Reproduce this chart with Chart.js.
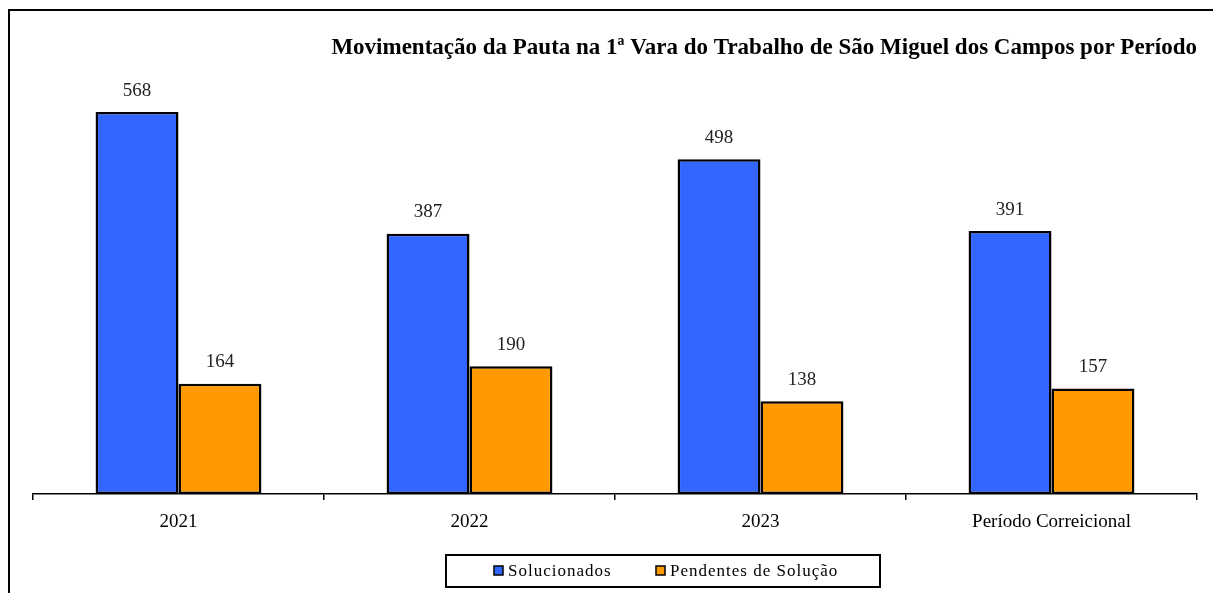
<!DOCTYPE html>
<html lang="pt">
<head>
    <meta charset="UTF-8">
    <title>Movimentação da Pauta</title>
    <script src="https://cdn.jsdelivr.net/npm/chart.js"></script>
    <style>
        html, body { margin: 0; padding: 0; background: #fff; }
        #wrap { width: 1213px; height: 593px; }
    </style>
</head>
<body>
    <div id="wrap"><canvas id="chart"></canvas></div>

    <script>
        const periodos = ["2021", "2022", "2023", "Período Correicional"];
        const solucionados = [568, 387, 498, 391];
        const pendentes = [164, 190, 138, 157];

        const serif = "'Liberation Serif', 'Times New Roman', serif";

        // moldura (linha superior e esquerda) + legenda em caixa
        const moldura = {
            id: "moldura",
            beforeDraw(chart) {
                const c = chart.ctx;
                c.save();
                c.fillStyle = "#fff";
                c.fillRect(0, 0, chart.width, chart.height);
                c.strokeStyle = "#000";
                c.lineWidth = 2;
                c.beginPath();
                c.moveTo(9, chart.height);
                c.lineTo(9, 10);
                c.lineTo(chart.width, 10);
                c.stroke();
                c.restore();
            },
            afterDraw(chart) {
                const c = chart.ctx;
                c.save();
                c.strokeStyle = "#000";
                c.lineWidth = 2;
                c.strokeRect(446, 555, 434, 32);
                c.font = "17px " + serif;
                c.letterSpacing = "1px";
                c.textBaseline = "middle";
                c.fillStyle = "#000";
                const xs = [494, 656];
                chart.data.datasets.forEach((ds, i) => {
                    c.fillStyle = ds.backgroundColor;
                    c.fillRect(xs[i], 566, 9, 9);
                    c.lineWidth = 1.5;
                    c.strokeRect(xs[i], 566, 9, 9);
                    c.fillStyle = "#000";
                    c.fillText(ds.label, xs[i] + 14, 572);
                });
                c.restore();
            }
        };

        // rótulos de valor acima das barras
        const rotulos = {
            id: "rotulos",
            afterDatasetsDraw(chart) {
                const c = chart.ctx;
                c.save();
                c.font = "19px " + serif;
                c.fillStyle = "#222";
                c.textAlign = "center";
                c.textBaseline = "bottom";
                chart.data.datasets.forEach((ds, i) => {
                    chart.getDatasetMeta(i).data.forEach((bar, j) => {
                        c.fillText(ds.data[j], bar.x, bar.y - 12);
                    });
                });
                c.restore();
            }
        };

        const ctx = document.getElementById("chart").getContext("2d");

        new Chart(ctx, {
            type: "bar",
            data: {
                labels: periodos,
                datasets: [
                    {
                        label: "Solucionados",
                        data: solucionados,
                        backgroundColor: "#3366FF",
                        borderColor: "#000",
                        borderWidth: 2.5,
                        borderSkipped: false
                    },
                    {
                        label: "Pendentes de Solução",
                        data: pendentes,
                        backgroundColor: "#FF9900",
                        borderColor: "#000",
                        borderWidth: 2.5,
                        borderSkipped: false
                    }
                ]
            },
            options: {
                responsive: true,
                maintainAspectRatio: false,
                animation: false,
                datasets: {
                    bar: { categoryPercentage: 0.57, barPercentage: 1 }
                },
                layout: {
                    padding: { left: 33, right: 16, top: 0, bottom: 38 }
                },
                scales: {
                    x: {
                        grid: {
                            offset: true,
                            drawOnChartArea: false,
                            drawTicks: true,
                            tickLength: 6,
                            color: "#000",
                            lineWidth: 1.5
                        },
                        border: { display: true, color: "#000", width: 1.5 },
                        ticks: {
                            color: "#000",
                            padding: 11,
                            font: { family: serif, size: 19 }
                        },
                        afterFit(scale) { scale.height = 61; }
                    },
                    y: {
                        display: false,
                        min: 0,
                        max: 600
                    }
                },
                plugins: {
                    title: {
                        display: true,
                        text: "Movimentação da Pauta na 1ª Vara do Trabalho de São Miguel dos Campos por Período",
                        align: "end",
                        color: "#000",
                        font: { family: serif, size: 23, weight: "bold" },
                        padding: { top: 34, bottom: 29 }
                    },
                    legend: { display: false },
                    tooltip: { enabled: false }
                }
            },
            plugins: [moldura, rotulos]
        });
    </script>
</body>
</html>
